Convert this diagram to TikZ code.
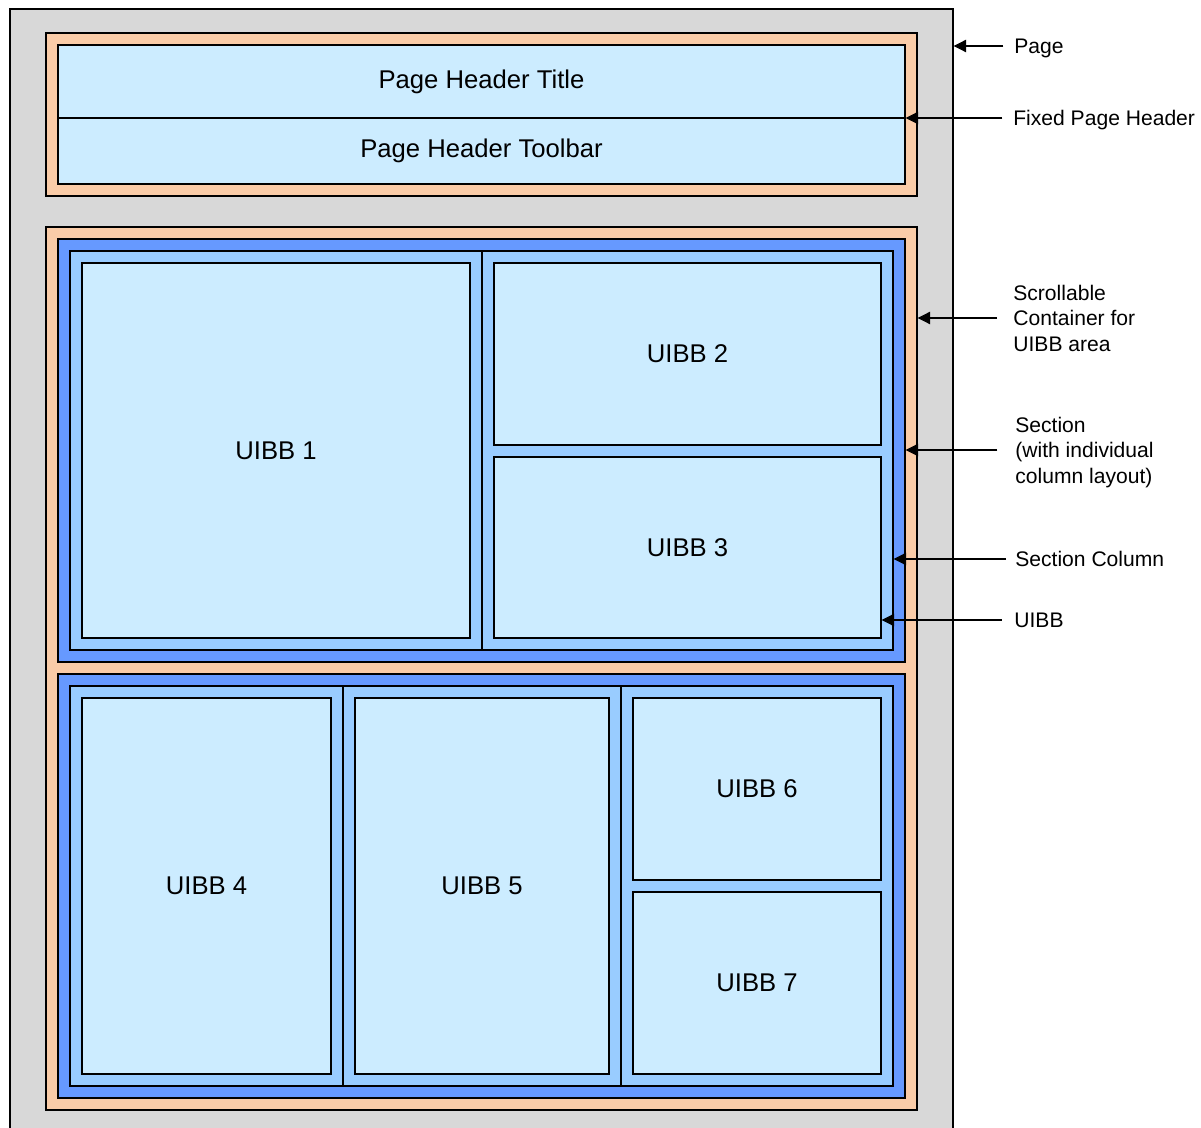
\documentclass[tikz,border=0pt]{standalone}
\usepackage{fontspec}
\setmainfont{Liberation Sans}
\usetikzlibrary{fit,arrows.meta}

\definecolor{pagegray}{RGB}{216,216,216}
\definecolor{peach}{RGB}{250,204,168}
\definecolor{secblue}{RGB}{102,153,255}
\definecolor{colblue}{RGB}{153,204,255}
\definecolor{uibbblue}{RGB}{204,236,255}

\tikzset{
	area/.style={rectangle, draw=black, line width=0.8pt, inner sep=0pt},
	uibb/.style={area, fill=uibbblue, label={[font=\fontsize{14.6}{17}\selectfont]center:#1}},
	callout/.style={anchor=west, align=left, inner sep=0pt, text depth=0pt, font=\fontsize{12}{14.5}\selectfont},
	pointer/.style={-{Triangle[length=7pt,width=7pt]}, line width=0.6pt},
}

\begin{document}
\begin{tikzpicture}[x=0.02cm,y=-0.02cm]

\useasboundingbox (0,0) rectangle (1201,1128);
\clip (0,0) rectangle (1201,1128);

% page and header
\node[area, fill=pagegray, fit={(10,9) (953,1150)}] (page) {};
\node[area, fill=peach, fit={(46,33) (917,196)}] (header) {};
\node[uibb=Page Header Title, fit={(58,45) (905,118)}] (hdrtitle) {};
\node[uibb=Page Header Toolbar, fit={(58,118) (905,184)}] (hdrtoolbar) {};

% scroll container
\node[area, fill=peach, fit={(46,227) (917,1110)}] (scroll) {};

% first section: two columns
\node[area, fill=secblue, fit={(58,239) (905,662)}] (sec1) {};
\node[area, fill=colblue, fit={(70,251) (482,650)}] (col11) {};
\node[area, fill=colblue, fit={(482,251) (893,650)}] (col12) {};
\node[uibb=UIBB 1, fit={(82,263) (470,638)}] (uibb1) {};
\node[uibb=UIBB 2, fit={(494,263) (881,445)}] (uibb2) {};
\node[uibb=UIBB 3, fit={(494,457) (881,638)}] (uibb3) {};

% second section: three columns
\node[area, fill=secblue, fit={(58,674) (905,1098)}] (sec2) {};
\node[area, fill=colblue, fit={(70,686) (343,1086)}] (col21) {};
\node[area, fill=colblue, fit={(343,686) (621,1086)}] (col22) {};
\node[area, fill=colblue, fit={(621,686) (893,1086)}] (col23) {};
\node[uibb=UIBB 4, fit={(82,698) (331,1074)}] (uibb4) {};
\node[uibb=UIBB 5, fit={(355,698) (609,1074)}] (uibb5) {};
\node[uibb=UIBB 6, fit={(633,698) (881,880)}] (uibb6) {};
\node[uibb=UIBB 7, fit={(633,892) (881,1074)}] (uibb7) {};

% callouts
\node[callout] (lblpage) at (1014,46) {Page};
\node[callout] (lblheader) at (1013,118) {Fixed Page Header};
\node[callout] (lblscroll) at (1013,318) {Scrollable\\Container for\\UIBB area};
\node[callout] (lblsection) at (1015,450) {Section\\(with individual\\column layout)};
\node[callout] (lblcolumn) at (1015,559) {Section Column};
\node[callout] (lbluibb) at (1014,620) {UIBB};

\draw[pointer] ([xshift=-6pt]lblpage.west) -- (lblpage.west -| page.east);
\draw[pointer] ([xshift=-6pt]lblheader.west) -- (lblheader.west -| hdrtitle.east);
\draw[pointer] ([xshift=-9pt]lblscroll.west) -- (lblscroll.west -| scroll.east);
\draw[pointer] ([xshift=-10pt]lblsection.west) -- (lblsection.west -| sec1.east);
\draw[pointer] ([xshift=-5pt]lblcolumn.west) -- (lblcolumn.west -| col12.east);
\draw[pointer] ([xshift=-7pt]lbluibb.west) -- (lbluibb.west -| uibb3.east);

\end{tikzpicture}
\end{document}
